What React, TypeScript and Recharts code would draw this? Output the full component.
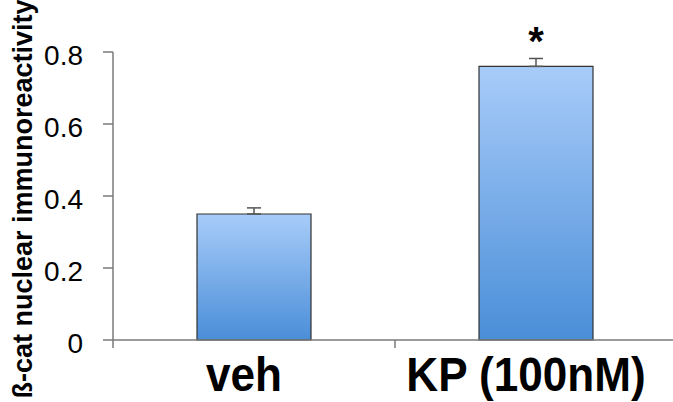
import React from 'react';
import { BarChart, Bar, XAxis, YAxis, ErrorBar, LabelList } from 'recharts';

// values
const categories = ['veh', 'KP (100nM)'];
const means = [0.35, 0.76];
const errUpper = [0.017, 0.022];
const marks = ['', '*'];
const yTicks = [0, 0.2, 0.4, 0.6, 0.8];

const data = categories.map((name, i) => ({
  name,
  value: means[i],
  err: [0, errUpper[i]],
  mark: marks[i],
}));

const AXIS_COLOR = '#7a7a7a';
const FONT = '"Liberation Sans", Arial, sans-serif';

// y tick label, sits a touch below the tick like the original
const YTick = (props: any) => {
  const { x, y, payload } = props;
  return (
    <text x={x} y={y + 3} dy='0.355em' textAnchor='end' fontSize={28} fontFamily={FONT} fill='#000'>
      {payload.value === 0 ? '0' : payload.value.toFixed(1)}
    </text>
  );
};

// category label plus a tick mark at the left edge of each band
const XTick = (props: any) => {
  const { x, y, payload } = props;
  const half = payload.offset ?? 141;
  return (
    <g>
      <line x1={x - half} x2={x - half} y1={y} y2={y + 8} stroke={AXIS_COLOR} strokeWidth={1.5} />
      <text
        transform={`translate(${x - 10},${y + 51}) scale(0.9,1)`}
        textAnchor='middle'
        fontSize={49}
        fontWeight='bold'
        fontFamily={FONT}
        fill='#000'
      >
        {payload.value}
      </text>
    </g>
  );
};

const YLabel = (props: any) => {
  const { viewBox } = props;
  const cx = viewBox.x + 32;
  const cy = viewBox.y + viewBox.height / 2 + 3;
  return (
    <text
      x={cx}
      y={cy}
      transform={`rotate(-90, ${cx}, ${cy})`}
      textAnchor='middle'
      fontSize={27}
      fontWeight='bold'
      fontFamily={FONT}
      fill='#000'
    >
      ß-cat nuclear immunoreactivity
    </text>
  );
};

const SigMark = (props: any) => {
  const { x, y, width, value } = props;
  if (!value) return null;
  return (
    <text x={x + width / 2} y={y - 11} textAnchor='middle' fontSize={40} fontWeight='bold' fontFamily={FONT} fill='#000'>
      {value}
    </text>
  );
};

export default function App() {
  return (
    <div style={{ position: 'absolute', left: 0, top: 0, width: 673, height: 402, overflow: 'hidden', background: '#fff' }}>
      <BarChart width={700} height={402} data={data} margin={{ top: 52, right: 23, bottom: 0, left: 0 }}>
        <defs>
          <linearGradient id='barFill' x1='0' y1='0' x2='0' y2='1'>
            <stop offset='0%' stopColor='#a8ccf9' />
            <stop offset='100%' stopColor='#4a8ed8' />
          </linearGradient>
        </defs>
        <XAxis
          dataKey='name'
          height={62}
          tickLine={false}
          tickSize={0}
          tickMargin={0}
          tick={<XTick />}
          interval={0}
          axisLine={{ stroke: AXIS_COLOR, strokeWidth: 1.5 }}
        />
        <YAxis
          width={113}
          domain={[0, 0.8]}
          ticks={yTicks}
          tickSize={10}
          tickMargin={20}
          tick={<YTick />}
          tickLine={{ stroke: AXIS_COLOR, strokeWidth: 1.5 }}
          axisLine={{ stroke: AXIS_COLOR, strokeWidth: 1.5 }}
          label={{ content: <YLabel /> }}
        />
        <Bar dataKey='value' barSize={114} fill='url(#barFill)' stroke='#333' strokeWidth={1.2} isAnimationActive={false}>
          <ErrorBar dataKey='err' width={7} stroke='#555' strokeWidth={1.5} direction='y' isAnimationActive={false} />
          <LabelList dataKey='mark' content={<SigMark />} />
        </Bar>
      </BarChart>
    </div>
  );
}
